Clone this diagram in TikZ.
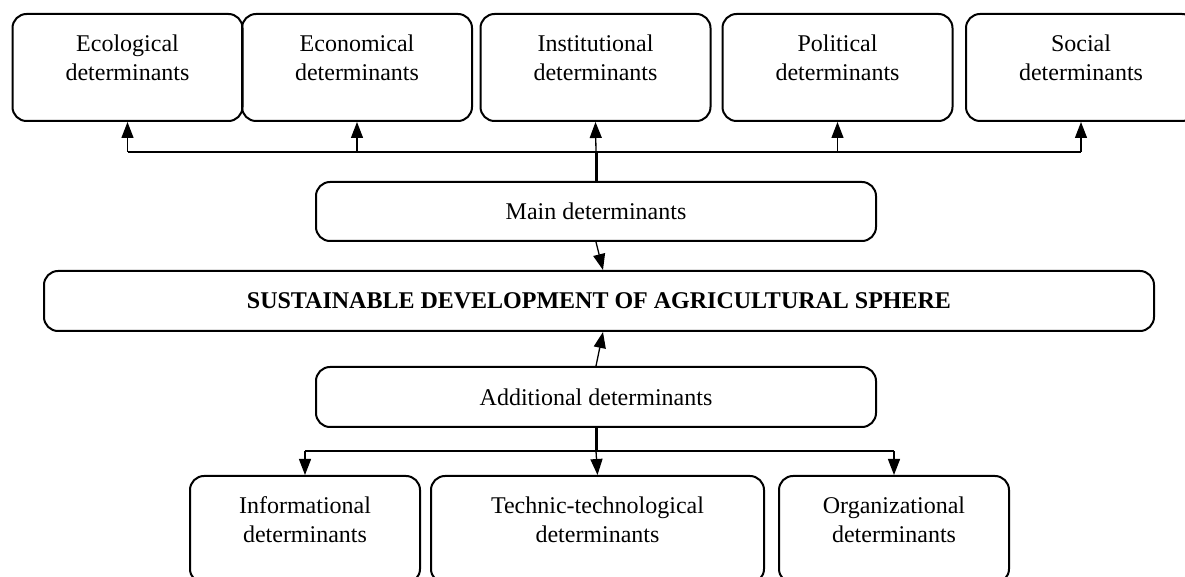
\documentclass[tikz,border=0pt]{standalone}
\usepackage{fontspec}
\setmainfont{Liberation Serif}
\usetikzlibrary{arrows.meta}

\begin{document}
\begin{tikzpicture}[
      x=0.5pt, y=-0.5pt,
      >={Triangle[length=8pt,width=6pt]},
      every node/.style={font=\fontsize{12}{14.5}\selectfont},
      box/.style={draw, line width=1pt, rounded corners=7pt, inner sep=0pt, align=center},
      detbox/.style={box, minimum width=115pt, text height=33.5pt, text depth=20pt},
      link/.style={line width=0.65pt},
      trunk/.style={line width=1.5pt}
    ]
    \useasboundingbox (0,0) rectangle (1185,577);

    % Main determinants
    \node[detbox] (eco) at (127.5,67.5) {Ecological\\determinants};
    \node[detbox] (econ) at (357,67.5) {Economical\\determinants};
    \node[detbox] (inst) at (595.5,67.5) {Institutional\\determinants};
    \node[detbox] (pol) at (837.5,67.5) {Political\\determinants};
    \node[detbox] (soc) at (1081,67.5) {Social\\determinants};

    \node[box, minimum width=280pt, minimum height=29.5pt] (main) at (596,211.5) {Main determinants};

    % Central block
    \node[box, minimum width=555pt, minimum height=30pt] (sdas) at (599,301)
      {\textbf{SUSTAINABLE DEVELOPMENT OF AGRICULTURAL SPHERE}};

    % Additional determinants
    \node[box, minimum width=280pt, minimum height=30pt] (add) at (596,397) {Additional determinants};

    \node[detbox] (info) at (305,529.5) {Informational\\determinants};
    \node[detbox, minimum width=166.5pt] (tech) at (597.5,529.5) {Technic-technological\\determinants};
    \node[detbox] (org) at (894,529.5) {Organizational\\determinants};

    % Upper branching
    \coordinate (upbus) at (596,152);
    \draw[trunk] (main.north) -- (main.north |- upbus);
    \draw[link] (eco.south |- upbus) -- (soc.south |- upbus);
    \draw[link,->] (main.north |- upbus) -- (inst.south);
    \draw[link,->] (eco.south |- upbus) -- (eco.south);
    \draw[link,->] (econ.south |- upbus) -- (econ.south);
    \draw[link,->] (pol.south |- upbus) -- (pol.south);
    \draw[link,->] (soc.south |- upbus) -- (soc.south);

    % Into the central block
    \draw[link,->] (main.south) -- ([xshift=2pt]sdas.north);
    \draw[link,->] (add.north) -- ([xshift=2pt]sdas.south);

    % Lower branching
    \coordinate (downbus) at (596,451);
    \draw[trunk] (add.south) -- (add.south |- downbus);
    \draw[link] (info.north |- downbus) -- (org.north |- downbus);
    \draw[link,->] (info.north |- downbus) -- (info.north);
    \draw[link,->] (add.south |- downbus) -- (tech.north);
    \draw[link,->] (org.north |- downbus) -- (org.north);

  \end{tikzpicture}
\end{document}
